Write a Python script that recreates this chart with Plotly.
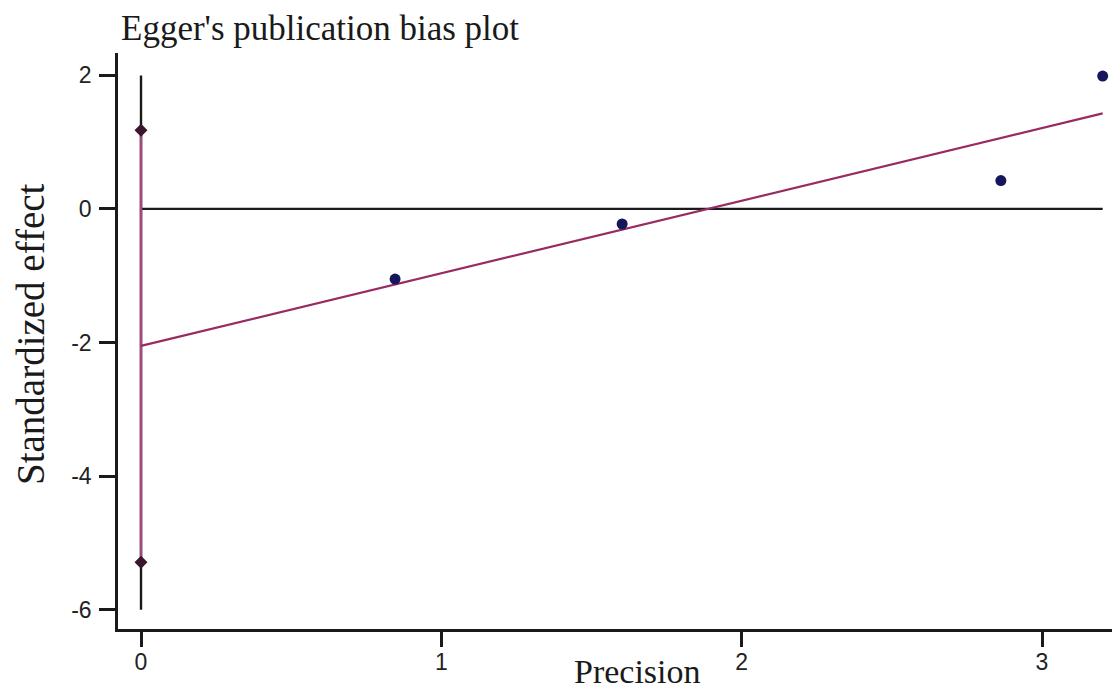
import plotly.graph_objects as go

# ---- data ----
precision = [0.846, 1.602, 2.863, 3.202]
std_effect = [-1.05, -0.225, 0.425, 1.99]

egger_intercept = -2.05
egger_slope = 1.087
intercept_ci = [-5.29, 1.18]
vertical_span = [-6.0, 2.0]

x_ticks = [0, 1, 2, 3]
y_ticks = [-6, -4, -2, 0, 2]

title_text = "Egger's publication bias plot"
x_title = "Precision"
y_title = "Standardized effect"

# ---- styles ----
navy = "#16165e"
maroon = "#9a2a62"
ci_col = "#a14a80"
axis_col = "#1a1a1a"

x_max = max(precision)

fig = go.Figure()

fig.add_trace(go.Scatter(x=[0, 0], y=vertical_span, mode="lines",
                         line=dict(color=axis_col, width=2.4), hoverinfo="skip", showlegend=False))
fig.add_trace(go.Scatter(x=[0, x_max], y=[0, 0], mode="lines",
                         line=dict(color=axis_col, width=2.2), hoverinfo="skip", showlegend=False))
fig.add_trace(go.Scatter(x=[0, 0], y=intercept_ci, mode="lines+markers",
                         line=dict(color=ci_col, width=2.6),
                         marker=dict(symbol="diamond", size=10, color="#3a1530"),
                         hoverinfo="skip", showlegend=False))
fig.add_trace(go.Scatter(x=[0, x_max],
                         y=[egger_intercept, egger_intercept + egger_slope * x_max],
                         mode="lines", line=dict(color=maroon, width=2.2),
                         hoverinfo="skip", showlegend=False))
fig.add_trace(go.Scatter(x=precision, y=std_effect, mode="markers",
                         marker=dict(color=navy, size=11), showlegend=False))

# page body has an 8px margin; compensate so the plot lands where the reference has it
OFF = 8
W, H = 1120 - OFF, 693 - OFF
L, R, T, B = 118 - OFF, 2, 53 - OFF, 64
PW, PH = W - L - R, H - T - B

def px_x(x):  # page pixel -> paper x
    return (x - OFF - L) / PW

def px_y(y):  # page pixel -> paper y
    return (H - B - (y - OFF)) / PH

fig.update_layout(
    width=W, height=H,
    margin=dict(l=L, r=R, t=T, b=B),
    paper_bgcolor="white", plot_bgcolor="white",
    showlegend=False,
    font=dict(family="Liberation Sans, Arial, sans-serif", color="#1a1a1a"),
)

tickfont = dict(size=23, family="Liberation Sans, Arial, sans-serif", color="#222")
fig.update_xaxes(range=[-0.0766, 3.253], tickvals=x_ticks, ticktext=[str(v) for v in x_ticks],
                 showgrid=False, zeroline=False, showline=True, linecolor=axis_col, linewidth=2.5,
                 ticks="outside", ticklen=15, tickwidth=2.5, tickcolor=axis_col, tickfont=tickfont,
                 ticklabelstandoff=-4)
fig.update_yaxes(range=[-6.288, 2.335], tickvals=y_ticks, ticktext=[str(v) for v in y_ticks],
                 showgrid=False, zeroline=False, showline=True, linecolor=axis_col, linewidth=2.5,
                 ticks="outside", ticklen=16, tickwidth=2.5, tickcolor=axis_col, tickfont=tickfont,
                 ticklabelstandoff=3)

serif = "Liberation Serif, Times New Roman, serif"
fig.add_annotation(text=title_text, xref="paper", yref="paper", x=px_x(119),
                   y=px_y(28), xanchor="left", yanchor="middle",
                   showarrow=False, font=dict(family=serif, size=35, color="#1a1a1a"))
fig.add_annotation(text=x_title, xref="paper", yref="paper", x=px_x(637),
                   y=px_y(671), xanchor="center", yanchor="middle",
                   showarrow=False, font=dict(family=serif, size=34, color="#1a1a1a"))
fig.add_annotation(text=y_title, xref="paper", yref="paper", x=px_x(30),
                   y=px_y(334), xanchor="center", yanchor="middle",
                   textangle=-90, showarrow=False, font=dict(family=serif, size=39, color="#1a1a1a"))

fig.write_html("out.html")
